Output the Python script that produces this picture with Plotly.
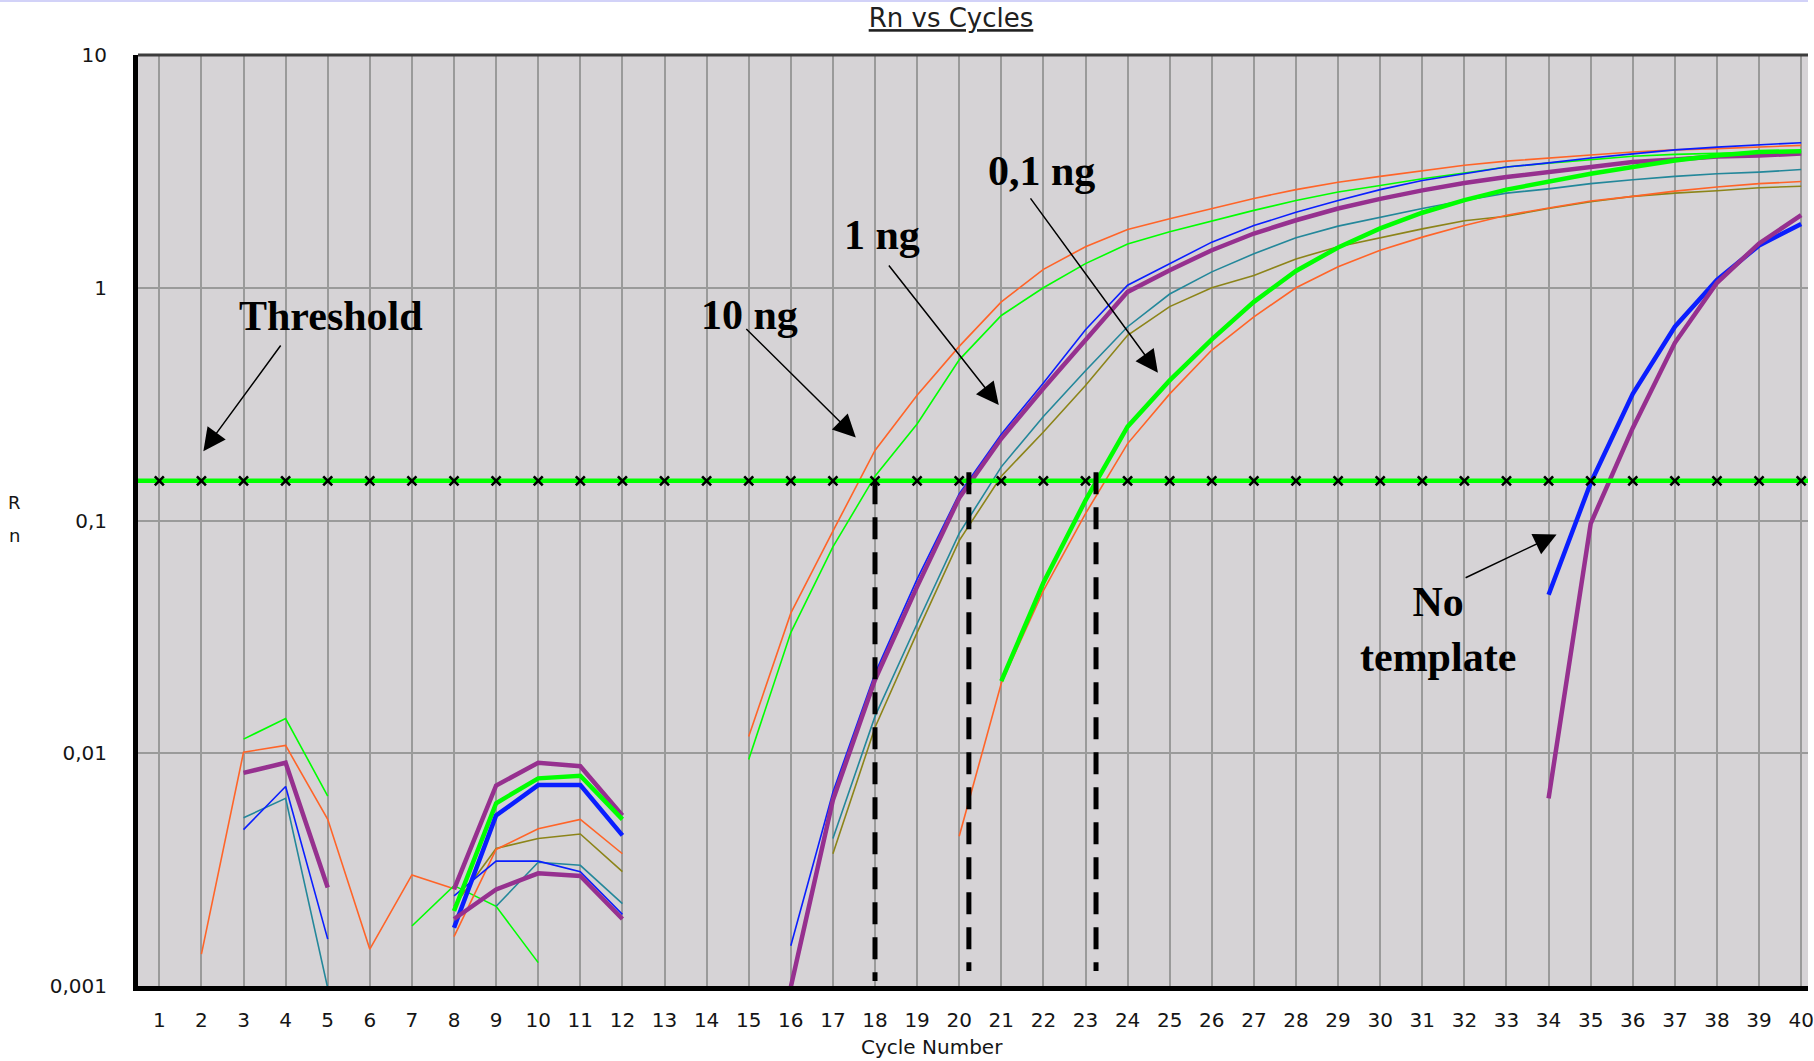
import plotly.graph_objects as go

N = None
cycles = list(range(1, 41))

# Rn values per well (cycles 1..40); None = no plotted value (<= 0 on log scale)
orange_10ng = [N, 0.00137, 0.0101, 0.0108, 0.0052, 0.00144, 0.0030, 0.00262, N, N,
               N, N, N, N, 0.0118, 0.040, 0.090, 0.20, 0.345, 0.56,
               0.87, 1.2, 1.5, 1.78, 1.98, 2.19, 2.42, 2.64, 2.84, 3.01,
               3.19, 3.36, 3.50, 3.62, 3.72, 3.83, 3.91, 3.96, 4.02, 4.09]
green_10ng = [N, N, 0.0115, 0.0141, 0.00655, N, 0.00181, 0.0027, 0.0022, 0.00126,
              N, N, N, N, 0.0094, 0.033, 0.077, 0.155, 0.26, 0.49,
              0.76, 1.0, 1.27, 1.54, 1.74, 1.94, 2.15, 2.37, 2.58, 2.75,
              2.94, 3.11, 3.30, 3.43, 3.56, 3.67, 3.74, 3.79, 3.82, 3.86]
teal_1ng = [N, N, 0.00528, 0.0064, 0.00098, N, N, N, 0.0022, 0.0034,
            0.0033, 0.00226, N, N, N, N, 0.0043, 0.0144, 0.036, 0.088,
            0.17, 0.28, 0.44, 0.68, 0.94, 1.17, 1.40, 1.64, 1.84, 2.01,
            2.19, 2.37, 2.55, 2.66, 2.80, 2.91, 3.01, 3.09, 3.14, 3.22]
olive_1ng = [N, N, N, N, N, N, N, 0.0022, 0.0039, 0.0043,
             0.0045, 0.0031, N, N, N, N, 0.0037, 0.0129, 0.033, 0.082,
             0.155, 0.24, 0.38, 0.625, 0.83, 1.0, 1.13, 1.33, 1.50, 1.64,
             1.79, 1.94, 2.03, 2.19, 2.34, 2.47, 2.55, 2.61, 2.69, 2.73]
blue_1ng = [N, N, 0.0047, 0.0072, 0.00159, N, N, 0.00244, 0.00344, 0.00344,
            0.0031, 0.00203, N, N, N, 0.00149, 0.0068, 0.022, 0.056, 0.13,
            0.235, 0.39, 0.66, 1.025, 1.27, 1.57, 1.85, 2.11, 2.37, 2.64,
            2.89, 3.09, 3.30, 3.44, 3.61, 3.76, 3.91, 4.02, 4.11, 4.20]
orange_01ng = [N, N, N, N, N, N, N, 0.00163, 0.00386, 0.00474,
               0.0052, 0.0037, N, N, N, N, N, N, N, 0.0044,
               0.020, 0.050, 0.107, 0.214, 0.35, 0.54, 0.75, 1.0, 1.23, 1.45,
               1.65, 1.85, 2.05, 2.20, 2.36, 2.47, 2.60, 2.71, 2.80, 2.86]
purple_1ng = [N, N, N, N, N, N, N, 0.0026, 0.00727, 0.0091,
              0.0088, 0.0054, N, N, N, 0.00099, 0.0063, 0.0207, 0.052, 0.125,
              0.225, 0.37, 0.60, 0.96, 1.19, 1.45, 1.71, 1.95, 2.19, 2.41,
              2.62, 2.82, 2.99, 3.14, 3.32, 3.47, 3.56, 3.66, 3.70, 3.77]
green_01ng = [N, N, N, N, N, N, N, 0.0021, 0.0061, 0.0078,
              0.0080, 0.0052, N, N, N, N, N, N, N, N,
              0.0204, 0.054, 0.122, 0.253, 0.40, 0.60, 0.87, 1.18, 1.49, 1.80,
              2.10, 2.38, 2.64, 2.87, 3.09, 3.30, 3.52, 3.70, 3.83, 3.86]
blue_ntc = [N, N, N, N, N, N, N, 0.00178, 0.0054, 0.0073,
            0.0073, 0.00444, N, N, N, N, N, N, N, N,
            N, N, N, N, N, N, N, N, N, N,
            N, N, N, 0.048, 0.145, 0.35, 0.68, 1.08, 1.52, 1.88]
purple_ntc = [N, N, 0.00824, 0.0091, 0.00265, N, N, 0.00194, 0.0026, 0.00305,
              0.00297, 0.00194, N, N, N, N, N, N, N, N,
              N, N, N, N, N, N, N, N, N, N,
              N, N, N, 0.0064, 0.097, 0.25, 0.58, 1.05, 1.55, 2.05]

threshold = 0.148
ct_values = [18.0, 20.23, 23.25]
ct_tops = [0.146, 0.161, 0.161]
ct_bottoms = [0.00105, 0.00116, 0.00116]

y_tickvals = [0.001, 0.01, 0.1, 1, 10]
y_ticktext = ["0,001", "0,01", "0,1", "1", "10"]
x_ticktext = [str(c) for c in cycles]

ORANGE = "#ff6428"
GREEN = "#00ff00"
BLUE = "#0a1eff"
PURPLE = "#96308f"
TEAL = "#23879a"
OLIVE = "#8c8419"

series = [
    (orange_10ng, ORANGE, 1.6),
    (green_10ng, GREEN, 1.6),
    (teal_1ng, TEAL, 1.6),
    (olive_1ng, OLIVE, 1.6),
    (orange_01ng, ORANGE, 1.6),
    (blue_1ng, BLUE, 1.6),
    (purple_1ng, PURPLE, 4.5),
    (green_01ng, GREEN, 4.5),
    (blue_ntc, BLUE, 4.5),
    (purple_ntc, PURPLE, 4.5),
]

fig = go.Figure()
for vals, col, w in series:
    fig.add_trace(go.Scatter(x=cycles, y=vals, mode="lines",
                             line=dict(color=col, width=w),
                             connectgaps=False, hoverinfo="skip"))

# threshold line extended to plot edges, then x markers at each cycle
fig.add_trace(go.Scatter(x=[0, 41], y=[threshold, threshold], mode="lines",
                         line=dict(color=GREEN, width=4.5), hoverinfo="skip"))
fig.add_trace(go.Scatter(x=cycles, y=[threshold] * len(cycles), mode="markers",
                         marker=dict(symbol="x-thin", size=9,
                                     line=dict(color="black", width=2.6)),
                         hoverinfo="skip"))

for ct, top, bot in zip(ct_values, ct_tops, ct_bottoms):
    fig.add_trace(go.Scatter(x=[ct, ct], y=[top, bot], mode="lines",
                             line=dict(color="black", width=5, dash="22px,13px"),
                             hoverinfo="skip"))

SERIF = "Liberation Serif, Times New Roman, serif"
LBL = dict(family=SERIF, size=42, color="black")

labels = [
    ("Threshold", 5.08, -0.122),
    ("10 ng", 15.03, -0.118),
    ("1 ng", 18.17, 0.225),
    ("0,1 ng", 21.96, 0.50),
    ("No<br>template", 31.38, -1.469),
]
annotations = []
for txt, x, ly in labels:
    annotations.append(dict(x=x, y=ly, xref="x", yref="y", text="<b>" + txt + "</b>",
                            showarrow=False, font=LBL, xanchor="center", yanchor="middle"))

arrows = [
    (2.046, -0.702, 78.4, -107.2),
    (17.544, -0.643, -111.0, -109.9),
    (20.94, -0.504, -111.1, -141.1),
    (24.72, -0.365, -128.5, -175.8),
    (34.19, -1.06, -92.5, 44.0),
]
for x, ly, ax, ay in arrows:
    annotations.append(dict(x=x, y=ly, xref="x", yref="y", ax=ax, ay=ay, text="",
                            showarrow=True, arrowhead=2, arrowsize=3.0, arrowwidth=1.5,
                            arrowcolor="black", standoff=0))

AX_FONT = dict(family="DejaVu Sans, Verdana, sans-serif", size=20, color="#151515")
annotations.append(dict(x=0.4755, y=-0.0655, xref="paper", yref="paper", text="Cycle Number",
                        showarrow=False, font=AX_FONT, xanchor="center", yanchor="middle"))
annotations.append(dict(x=-0.074, y=0.5188, xref="paper", yref="paper", text="R",
                        showarrow=False, font=dict(AX_FONT, size=18), xanchor="center", yanchor="middle"))
annotations.append(dict(x=-0.074, y=0.4834, xref="paper", yref="paper", text="n",
                        showarrow=False, font=dict(AX_FONT, size=18), xanchor="center", yanchor="middle"))

shapes = [
    dict(type="rect", xref="paper", yref="paper", x0=-0.09, x1=1.0, y0=1.0569, y1=1.062,
         fillcolor="#d2d2f8", line=dict(width=0), layer="above"),
    dict(type="line", xref="paper", yref="paper", x0=0, x1=1, y0=1, y1=1,
         line=dict(color="#3c3c3c", width=3), layer="above"),
]

fig.update_layout(
    width=1814, height=1061,
    margin=dict(l=138, r=0, t=55, b=75),
    paper_bgcolor="white", plot_bgcolor="#d6d3d6",
    showlegend=False,
    title=dict(text="<u>Rn vs Cycles</u>", x=951 / 1814, y=1 - 18 / 1061,
               xref="container", yref="container", xanchor="center", yanchor="middle",
               font=dict(family="DejaVu Sans, Verdana, sans-serif", size=26, color="#202020")),
    annotations=annotations,
    shapes=shapes,
    xaxis=dict(range=[0.4935, 40.162], tickmode="array", tickvals=cycles, ticktext=x_ticktext,
               showgrid=True, gridcolor="#9a9a9a", gridwidth=2, zeroline=False,
               showline=True, linecolor="black", linewidth=5,
               ticks="outside", ticklen=12, tickcolor="rgba(0,0,0,0)",
               ticklabeloverflow="allow", tickfont=AX_FONT),
    yaxis=dict(type="log", range=[-3, 1], tickmode="array", tickvals=y_tickvals,
               ticktext=y_ticktext, showgrid=True, gridcolor="#9a9a9a", gridwidth=2,
               zeroline=False, showline=True, linecolor="black", linewidth=5,
               ticks="outside", ticklen=22, tickcolor="rgba(0,0,0,0)",
               tickfont=AX_FONT),
)

fig.write_html("out.html", config={"displayModeBar": False},
               post_script="document.body.style.margin='0';document.body.style.overflow='hidden';")
